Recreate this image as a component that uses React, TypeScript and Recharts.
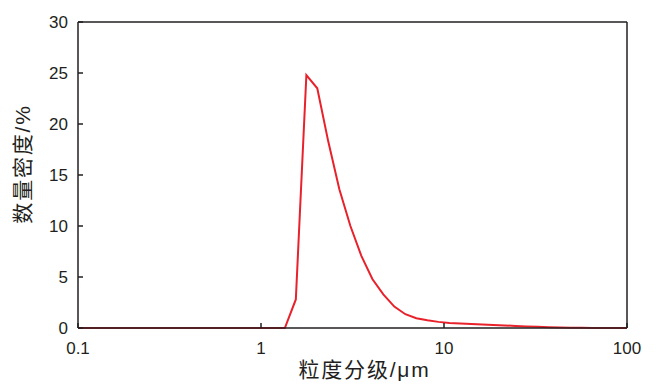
import React from 'react';
import { LineChart, Line, XAxis, YAxis, ReferenceLine } from 'recharts';

// particle size (μm), log spaced bins
const sizes = [
  0.1, 0.3, 0.8, 1.17, 1.35, 1.55, 1.77, 2.03, 2.33, 2.68, 3.08, 3.53, 4.06, 4.66,
  5.35, 6.15, 7.06, 8.11, 9.32, 10.7, 12.3, 14.1, 16.2, 18.6, 21.4, 24.6, 28.2,
  32.4, 37.3, 42.8, 49.2, 56.5, 64.9, 74.5, 85.6, 100,
];
// number density (%)
const density = [
  0, 0, 0, 0, 0, 2.8, 24.8, 23.5, 18.3, 13.6, 10.0, 7.1, 4.8, 3.3,
  2.1, 1.35, 0.95, 0.75, 0.6, 0.5, 0.45, 0.4, 0.35, 0.3, 0.25, 0.2, 0.15,
  0.12, 0.08, 0.05, 0.03, 0.02, 0.01, 0, 0, 0,
];
const xTicks = [0.1, 1, 10, 100];
const yTicks = [0, 5, 10, 15, 20, 25, 30];

const data = sizes.map((s, i) => ({ size: s, value: density[i] }));

const INK = '#231f20';
const FONT = '"Liberation Sans", "Noto Sans CJK SC", sans-serif';

const App: React.FC = () => {
  return (
    <div style={{ position: 'absolute', left: 0, top: 0, width: 656, height: 385, background: '#fff' }}>
      <LineChart width={656} height={385} data={data} margin={{ top: 22, right: 29, left: 0, bottom: 0 }}>
        <XAxis
          dataKey="size"
          type="number"
          scale="log"
          domain={[0.1, 100]}
          ticks={xTicks}
          allowDataOverflow
          tickFormatter={(v) => String(v)}
          height={57}
          tickSize={-5}
          tickMargin={19}
          stroke={INK}
          strokeWidth={1.5}
          tick={{ fill: INK, fontSize: 17, fontFamily: FONT }}
          label={{
            value: '粒度分级/μm',
            position: 'insideBottom',
            offset: 8,
            dx: 12,
            fill: INK,
            fontSize: 21,
            fontFamily: FONT,
            style: { letterSpacing: 1.8 },
          }}
        />
        <YAxis
          type="number"
          domain={[0, 30]}
          ticks={yTicks}
          width={78}
          tickSize={-5}
          tickMargin={15}
          stroke={INK}
          strokeWidth={1.5}
          tick={{ fill: INK, fontSize: 17, fontFamily: FONT }}
          label={{
            value: '数量密度/%',
            angle: -90,
            position: 'center',
            dx: -16,
            dy: -11,
            fill: INK,
            fontSize: 21,
            fontFamily: FONT,
            style: { letterSpacing: 1.8 },
          }}
        />
        <ReferenceLine y={30} stroke={INK} strokeWidth={1.5} />
        <ReferenceLine x={100} stroke={INK} strokeWidth={1.5} />
        <Line
          type="linear"
          dataKey="value"
          stroke="#e8212b"
          strokeWidth={2}
          dot={false}
          isAnimationActive={false}
        />
      </LineChart>
    </div>
  );
};

export default App;
